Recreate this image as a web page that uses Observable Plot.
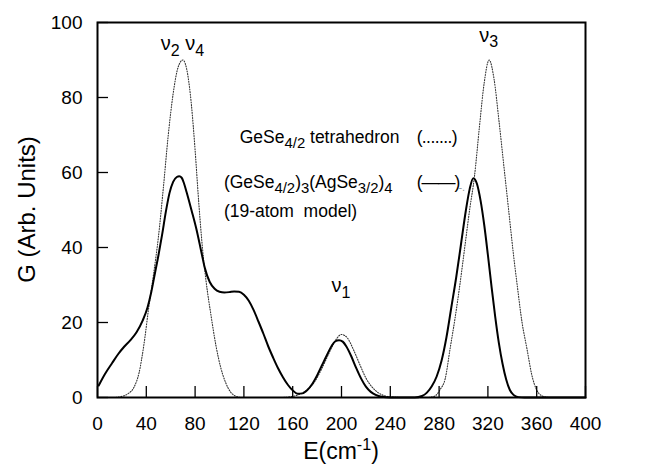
<!DOCTYPE html>
<html><head><meta charset="utf-8">
<script src="https://cdn.jsdelivr.net/npm/d3@7"></script>
<script src="https://cdn.jsdelivr.net/npm/@observablehq/plot@0.6"></script>
<style>
body{margin:0;background:#fff;}
#chart svg{display:block}
</style>
</head><body><div id="chart"></div>
<script>
const xTicks = [0, 40, 80, 120, 160, 200, 240, 280, 320, 360, 400];
const yTicks = [0, 20, 40, 60, 80, 100];

// (GeSe4/2)3(AgSe3/2)4 19-atom model (solid)
const solidE = [1, 6, 12, 17, 22, 27, 32, 37, 41, 44, 47, 50, 53, 56, 59, 62, 65, 67, 69, 71, 73, 77, 81, 85, 88, 92, 96, 100, 104, 108, 112, 116, 120, 124, 128, 132, 136, 140, 144, 148, 152, 156, 160, 164, 168, 172, 176, 180, 184, 188, 192, 195, 198, 201, 204, 208, 212, 216, 220, 224, 228, 233, 240, 250, 260, 266, 270, 274, 278, 282, 286, 290, 294, 298, 302, 305, 308, 311, 314, 317, 320, 323, 326, 329, 332, 335, 338, 341, 345, 350, 360, 380, 400];
const solidG = [3.2, 6.2, 9.2, 11.6, 13.6, 15.3, 17.4, 20.5, 24, 28, 33, 38, 43.5, 49.5, 54.5, 57.5, 58.8, 59, 58.6, 57, 54.8, 50, 45, 39, 34.5, 30.8, 29, 28.2, 28, 28.1, 28.3, 28.2, 27.4, 25.8, 23.3, 20.2, 17, 13.6, 10.6, 7.8, 5.4, 3.4, 1.9, 1, 1.1, 2, 3.6, 5.9, 8.6, 11.3, 13.8, 15, 15.3, 14.9, 13.6, 11, 7.9, 5.1, 2.9, 1.5, 0.7, 0.2, 0, 0, 0, 0.4, 1.3, 3, 5.6, 9.8, 16, 24, 32, 41, 50, 55.5, 58.5, 57, 52.5, 46, 38, 29.5, 21.5, 14.5, 9, 4.8, 2, 0.7, 0.1, 0, 0, 0, 0];

// GeSe4/2 tetrahedron (dotted)
const dotE = [15, 20, 25, 30, 34, 38, 42, 46, 50, 54, 58, 62, 66, 70, 74, 77, 80, 83, 86, 89, 93, 97, 101, 105, 109, 113, 118, 125, 150, 160, 166, 172, 178, 184, 190, 195, 200, 205, 210, 215, 220, 225, 230, 235, 242, 250, 270, 276, 281, 285, 289, 293, 297, 301, 305, 309, 313, 317, 321, 325, 329, 333, 337, 341, 344, 348, 352, 356, 360, 364, 370, 385];
const dotG = [0, 0.3, 1, 2.8, 6.5, 14, 24, 33, 43, 56, 70, 81, 88, 90, 86, 78, 66, 52, 40, 31, 22, 14, 8, 4, 1.5, 0.4, 0, 0, 0, 0.3, 0.9, 2, 4.2, 7.8, 12, 15.2, 16.8, 15.8, 12.6, 8.8, 5.2, 2.8, 1.3, 0.5, 0.1, 0, 0, 0.3, 2.2, 5, 13, 21, 30, 40, 50, 59, 72, 84, 90, 85, 74, 62, 50, 38, 30, 20, 13, 6, 2, 0.5, 0, 0];

const solid = solidE.map((e, i) => ({E: e, G: solidG[i]}));
const dotted = dotE.map((e, i) => ({E: e, G: dotG[i]}));

const FONT = "'Liberation Sans', Arial, Helvetica, sans-serif";

const chart = Plot.plot({
  width: 652, height: 472,
  marginLeft: 97, marginRight: 67, marginTop: 22, marginBottom: 75,
  style: {fontFamily: FONT, fontSize: "19px", background: "#fff", color: "#000"},
  x: {domain: [0, 400]},
  y: {domain: [0, 100]},
  marks: [
    Plot.line(dotted, {x: "E", y: "G", stroke: "#333", strokeWidth: 1.1, strokeDasharray: "1 1.6", curve: "monotone-x"}),
    Plot.line(solid, {x: "E", y: "G", stroke: "#000", strokeWidth: 2, curve: "monotone-x"}),
    Plot.frame({stroke: "#000", strokeWidth: 2}),
    Plot.axisX({ticks: xTicks, tickSize: -11, tickPadding: 30, label: null, fontSize: 19, strokeWidth: 1.3}),
    Plot.axisY({ticks: yTicks, tickSize: -11, tickPadding: 26, label: null, fontSize: 19, strokeWidth: 1.3})
  ]
});
document.getElementById("chart").append(chart);

const sx = chart.scale("x"), sy = chart.scale("y");
const svg = d3.select(chart);
const g = svg.append("g").attr("font-family", FONT).attr("fill", "#000");

function rich(x, y, parts, size, anchor, sub = 0.8) {
  const t = g.append("text").attr("x", x).attr("y", y).attr("font-size", size).attr("text-anchor", anchor || "start");
  for (const p of parts) {
    const s = t.append("tspan").text(p[0]);
    if (p[1] === "sub") s.attr("font-size", size * sub).attr("dy", size * 0.28);
    if (p[1] === "sup") s.attr("font-size", size * 0.7).attr("dy", -size * 0.4);
    if (p[1] === "back") s.attr("dy", p[2]);
  }
  return t;
}

// axis titles
g.append("text").attr("transform", `translate(35,${sy.apply(50)}) rotate(-90)`)
  .attr("text-anchor", "middle").attr("font-size", 24).text("G (Arb. Units)");
rich(sx.apply(200), 459, [["E(cm"], ["-1", "sup"], [")", "back", 23 * 0.4]], 23, "middle");

// peak labels
const ps = 20;
rich(sx.apply(70), sy.apply(92.5), [["ν"], ["2", "sub"], [" ν", "back", -ps * 0.28], ["4", "sub"]], ps, "middle");
rich(sx.apply(200), sy.apply(28), [["ν"], ["1", "sub"]], ps, "middle");
rich(sx.apply(321), sy.apply(94.7), [["ν"], ["3", "sub"]], ps, "middle");

// legend
const s = 17.5, d = s * 0.28;
rich(sx.apply(117), sy.apply(67.7), [["GeSe"], ["4/2", "sub"], [" tetrahedron", "back", -d]], s, "start", 0.85);
rich(sx.apply(262), sy.apply(67.7), [["(.......)"]], s).attr("letter-spacing", -0.6);
rich(sx.apply(104), sy.apply(55.7), [["(GeSe"], ["4/2", "sub"], [")", "back", -d], ["3", "sub"], ["(AgSe", "back", -d], ["3/2", "sub"], [")", "back", -d], ["4", "sub"]], s, "start", 0.85);
rich(sx.apply(262), sy.apply(55.7), [["(——)"]], s).attr("letter-spacing", -1);
g.append("text").attr("x", sx.apply(299)).attr("y", sy.apply(55)).attr("font-size", 11).attr("fill", "#999").text("-.");
rich(sx.apply(104), sy.apply(48), [["(19-atom  model)"]], s).style("white-space", "pre");
</script>
</body></html>
